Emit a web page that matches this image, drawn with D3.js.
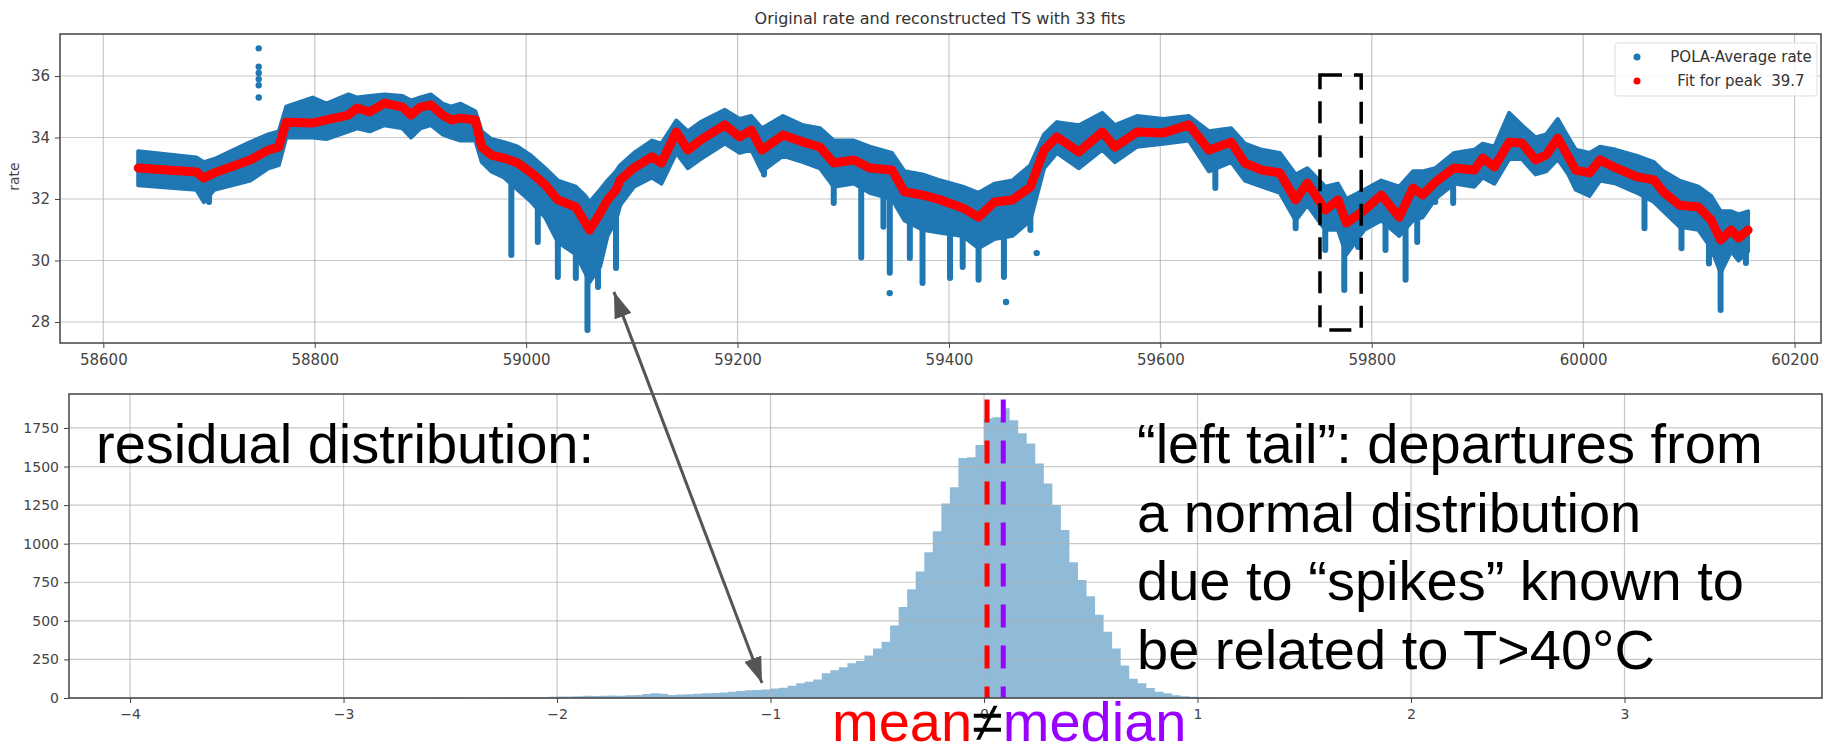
<!DOCTYPE html>
<html>
<head>
<meta charset="utf-8">
<title>Original rate and reconstructed TS with 33 fits</title>
<script src="https://cdn.jsdelivr.net/npm/d3@7"></script>
<style>
body { margin: 0; background: #fff; overflow: hidden; }
svg { display: block; }
text { font-family: "DejaVu Sans", sans-serif; }
.tick text { fill: #444; }
.tick line { stroke: #444; }
.note { font-family: "Liberation Sans", Arial, sans-serif; font-size: 56px; fill: #000; }
</style>
</head>
<body>
<svg width="1828" height="755"></svg>
<script>
// ---- top panel: rate time series (MJD) ----
const fitX = [58633, 58688, 58695, 58705, 58739, 58756, 58766, 58773, 58798, 58811, 58832, 58840, 58852, 58866, 58883, 58891, 58900, 58910, 58921, 58929, 58938, 58952, 58958, 58967, 58979, 58992, 59005, 59018, 59030, 59047, 59056, 59060, 59070, 59077, 59085, 59089, 59102, 59119, 59128, 59142, 59153, 59165, 59188, 59202, 59213, 59223, 59243, 59262, 59278, 59291, 59310, 59325, 59346, 59358, 59375, 59392, 59413, 59428, 59443, 59460, 59477, 59490, 59502, 59523, 59545, 59557, 59578, 59603, 59627, 59646, 59667, 59680, 59696, 59713, 59728, 59739, 59756, 59768, 59776, 59793, 59809, 59826, 59839, 59848, 59860, 59878, 59897, 59905, 59916, 59930, 59942, 59955, 59965, 59976, 59986, 59993, 60006, 60016, 60031, 60051, 60067, 60076, 60091, 60109, 60121, 60130, 60140, 60147, 60156];
const fitY = [33.01, 32.88, 32.68, 32.85, 33.27, 33.59, 33.69, 34.50, 34.47, 34.57, 34.73, 34.96, 34.83, 35.12, 34.99, 34.73, 34.99, 35.06, 34.73, 34.57, 34.63, 34.57, 33.69, 33.43, 33.33, 33.17, 32.85, 32.46, 31.97, 31.74, 31.22, 30.99, 31.54, 31.97, 32.29, 32.62, 33.01, 33.37, 33.17, 34.18, 33.59, 33.92, 34.41, 34.02, 34.24, 33.59, 34.08, 33.85, 33.69, 33.17, 33.27, 33.01, 32.94, 32.23, 32.13, 31.97, 31.71, 31.41, 31.90, 31.97, 32.39, 33.59, 34.02, 33.53, 34.18, 33.69, 34.18, 34.15, 34.41, 33.59, 33.85, 33.17, 32.94, 32.85, 31.97, 32.52, 31.64, 31.97, 31.22, 31.64, 32.13, 31.41, 32.36, 32.13, 32.55, 33.01, 32.94, 33.33, 33.04, 33.85, 33.82, 33.27, 33.43, 33.98, 33.37, 32.94, 32.85, 33.27, 33.01, 32.72, 32.62, 32.23, 31.80, 31.74, 31.32, 30.67, 30.99, 30.73, 30.99];
const bandHi = [33.55, 33.35, 33.2, 33.3, 33.85, 34.1, 34.2, 35.0, 35.3, 35.1, 35.4, 35.3, 35.35, 35.4, 35.35, 35.2, 35.3, 35.4, 35.1, 35.0, 35.1, 34.85, 34.2, 33.95, 33.85, 33.7, 33.4, 33.0, 32.6, 32.4, 32.1, 31.9, 32.3, 32.6, 32.9, 33.1, 33.5, 33.9, 33.8, 34.55, 34.2, 34.5, 34.9, 34.6, 34.7, 34.3, 34.7, 34.4, 34.3, 33.9, 33.9, 33.7, 33.5, 32.9, 32.8, 32.6, 32.4, 32.2, 32.5, 32.6, 33.1, 34.1, 34.5, 34.4, 34.8, 34.4, 34.7, 34.6, 34.7, 34.2, 34.3, 33.8, 33.6, 33.5, 32.8, 33.0, 32.4, 32.5, 32.0, 32.3, 32.6, 32.4, 32.9, 32.9, 33.0, 33.5, 33.6, 33.8, 33.7, 34.8, 34.4, 34.0, 34.1, 34.6, 34.0, 33.6, 33.5, 33.7, 33.6, 33.4, 33.2, 32.9, 32.6, 32.4, 32.1, 31.6, 31.6, 31.5, 31.6];
const bandLo = [32.45, 32.3, 31.9, 32.3, 32.6, 33.0, 33.1, 34.0, 34.0, 33.95, 34.2, 34.3, 34.2, 34.4, 34.3, 34.0, 34.3, 34.4, 34.1, 34.0, 33.9, 33.9, 33.2, 32.9, 32.7, 32.3, 31.9, 31.4, 30.6, 30.2, 29.6, 29.3, 29.8, 30.8, 31.3, 31.8, 32.4, 32.7, 32.5, 33.5, 33.0, 33.3, 33.8, 33.5, 33.6, 32.9, 33.4, 33.2, 33.0, 32.4, 32.5, 32.2, 32.0, 31.3, 31.0, 30.9, 30.8, 30.4, 30.7, 30.8, 31.3, 33.0, 33.5, 33.0, 33.6, 33.2, 33.7, 33.8, 33.9, 32.9, 33.2, 32.6, 32.4, 32.2, 31.3, 31.8, 31.0, 31.0, 30.2, 31.0, 31.3, 30.8, 31.3, 31.4, 32.0, 32.5, 32.4, 32.7, 32.5, 33.3, 33.3, 32.8, 32.9, 33.3, 32.8, 32.3, 32.1, 32.6, 32.5, 32.2, 31.9, 31.6, 31.1, 31.0, 30.4, 29.6, 30.3, 30.0, 30.3];
const spikeX = [58700, 58986, 59011, 59030, 59047, 59058, 59068, 59085, 59225, 59291, 59317, 59338, 59344, 59363, 59375, 59401, 59413, 59428, 59452, 59477, 59652, 59728, 59756, 59774, 59787, 59813, 59832, 59843, 59860, 59877, 60058, 60093, 60119, 60130, 60154];
const spikeTop = [32.6, 32.9, 32.5, 31.5, 31.2, 30.5, 30.5, 31.5, 33.2, 32.8, 32.6, 32.3, 32.2, 31.6, 31.3, 31.2, 31.0, 30.8, 31.2, 31.6, 33.2, 31.6, 31.3, 30.8, 31.2, 31.6, 31.2, 31.5, 32.2, 32.6, 32.3, 31.4, 30.9, 30.2, 30.5];
const spikeBottom = [31.9, 30.18, 30.6, 29.46, 29.43, 27.74, 29.14, 29.76, 32.8, 31.87, 30.1, 31.1, 29.6, 30.08, 29.27, 29.43, 29.79, 29.37, 29.46, 30.99, 32.36, 31.05, 30.34, 29.04, 30.44, 30.34, 29.37, 30.6, 31.9, 31.87, 31.05, 30.4, 29.9, 28.39, 29.92];
const dotX = [58747, 58747, 58747, 58747, 58747, 58747, 59344, 59454, 59483];
const dotY = [36.9, 36.3, 36.1, 35.9, 35.7, 35.3, 28.94, 28.65, 30.24];
const boxX = [59751, 59790];
const boxY = [27.74, 36.03];
const topXTicks = [58600, 58800, 59000, 59200, 59400, 59600, 59800, 60000, 60200];
const topYTicks = [28, 30, 32, 34, 36];

// ---- bottom panel: residual histogram ----
const binStart = -2.60;
const binWidth = 0.04;
const binCounts = [0, 4, 5, 3, 0, 0, 0, 1, 2, 4, 5, 6, 5, 7, 8, 9,
  10, 12, 14, 13, 15, 16, 15, 18, 20, 26, 30, 27, 20, 22, 24, 28, 30, 32, 36, 40, 46, 50, 52, 55, 62,
  66, 80, 95, 105, 120, 160, 180, 200, 225, 240, 275, 320, 365, 470, 590, 705, 820, 945, 1080, 1260, 1365, 1555, 1560, 1640,
  1813, 1820, 1878, 1800, 1716, 1650, 1520, 1390, 1250, 1088, 880, 764, 660, 540, 430, 320, 210, 125, 95, 65, 40, 30, 18, 12, 8, 4, 2];
const meanValue = 0.014;
const medianValue = 0.09;
const botXTicks = [-4, -3, -2, -1, 0, 1, 2, 3];
const botYTicks = [0, 250, 500, 750, 1000, 1250, 1500, 1750];

const svg = d3.select('svg');
const blue = '#1f77b4';

// scales
const x1 = d3.scaleLinear().domain([58559, 60225]).range([60, 1821]);
const y1 = d3.scaleLinear().domain([27.317, 37.366]).range([343, 34]);
const x2 = d3.scaleLinear().domain([-4.286, 3.925]).range([69, 1822]);
const y2 = d3.scaleLinear().domain([0, 1970]).range([698, 394]);

function grid(g, xs, ys, xt, yt) {
  const [xa, xb] = xs.range(), [ya, yb] = ys.range();
  g.selectAll('.gx').data(xt).enter().append('line')
    .attr('x1', d => xs(d)).attr('x2', d => xs(d)).attr('y1', ya).attr('y2', yb)
    .attr('stroke', '#b0b0b0').attr('stroke-opacity', 0.7).attr('stroke-width', 1.2);
  g.selectAll('.gy').data(yt).enter().append('line')
    .attr('y1', d => ys(d)).attr('y2', d => ys(d)).attr('x1', xa).attr('x2', xb)
    .attr('stroke', '#b0b0b0').attr('stroke-opacity', 0.7).attr('stroke-width', 1.2);
}

function frame(xs, ys, xt, yt, fs) {
  const [xa, xb] = xs.range(), [ya, yb] = ys.range();
  const ax = svg.append('g').attr('transform', `translate(0,${ya})`)
    .call(d3.axisBottom(xs).tickValues(xt).tickFormat(d3.format('d')).tickSize(5).tickPadding(6));
  const ay = svg.append('g').attr('transform', `translate(${xa},0)`)
    .call(d3.axisLeft(ys).tickValues(yt).tickFormat(d3.format('d')).tickSize(5).tickPadding(5));
  [ax, ay].forEach(a => {
    a.select('.domain').remove();
    a.selectAll('text').style('font-size', fs + 'px');
  });
  svg.append('rect').attr('x', xa).attr('y', yb).attr('width', xb - xa).attr('height', ya - yb)
    .attr('fill', 'none').attr('stroke', '#444').attr('stroke-width', 1.5);
}

// ---------- top panel ----------
const topG = svg.append('g');
grid(topG, x1, y1, topXTicks, topYTicks);

const band = fitX.map((d, i) => ({ x: d, hi: bandHi[i], lo: bandLo[i] }));
topG.append('path').datum(band)
  .attr('d', d3.area().x(d => x1(d.x)).y0(d => y1(d.lo)).y1(d => y1(d.hi)))
  .attr('fill', blue).attr('stroke', blue).attr('stroke-width', 4).attr('stroke-linejoin', 'round');

topG.selectAll('.spike').data(spikeX).enter().append('line')
  .attr('x1', d => x1(d)).attr('x2', d => x1(d))
  .attr('y1', (d, i) => y1(spikeTop[i])).attr('y2', (d, i) => y1(spikeBottom[i]))
  .attr('stroke', blue).attr('stroke-width', 6).attr('stroke-linecap', 'round');

topG.selectAll('.dot').data(dotX).enter().append('circle')
  .attr('cx', d => x1(d)).attr('cy', (d, i) => y1(dotY[i])).attr('r', 3.2).attr('fill', blue);

topG.append('path').datum(fitX.map((d, i) => [d, fitY[i]]))
  .attr('d', d3.line().x(d => x1(d[0])).y(d => y1(d[1])))
  .attr('fill', 'none').attr('stroke', '#ff0000').attr('stroke-width', 9)
  .attr('stroke-linejoin', 'round').attr('stroke-linecap', 'round');

frame(x1, y1, topXTicks, topYTicks, 15);

svg.append('text').attr('x', 940).attr('y', 24).attr('text-anchor', 'middle')
  .style('font-size', '16px').attr('fill', '#333')
  .text('Original rate and reconstructed TS with 33 fits');
svg.append('text').attr('transform', `translate(19,${(y1.range()[0] + y1.range()[1]) / 2 - 12}) rotate(-90)`)
  .attr('text-anchor', 'middle').style('font-size', '14px').attr('fill', '#444').text('rate');

// legend
const lg = svg.append('g');
lg.append('rect').attr('x', 1615).attr('y', 43).attr('width', 202).attr('height', 53).attr('rx', 3)
  .attr('fill', '#fff').attr('fill-opacity', 0.85).attr('stroke', '#ddd');
[['POLA-Average rate', blue], ['Fit for peak  39.7', '#ff0000']].forEach((e, i) => {
  lg.append('circle').attr('cx', 1637).attr('cy', 57 + i * 24).attr('r', 3.5).attr('fill', e[1]);
  lg.append('text').attr('x', 1741).attr('y', 57 + i * 24).attr('dy', '0.35em')
    .attr('text-anchor', 'middle').style('font-size', '15px').style('white-space', 'pre')
    .attr('fill', '#333').text(e[0]);
});

// dashed highlight box
topG.append('rect')
  .attr('x', x1(boxX[0])).attr('y', y1(boxY[1]))
  .attr('width', x1(boxX[1]) - x1(boxX[0])).attr('height', y1(boxY[0]) - y1(boxY[1]))
  .attr('fill', 'none').attr('stroke', '#000').attr('stroke-width', 3.5)
  .attr('stroke-dasharray', '22,12');

// ---------- bottom panel ----------
const botG = svg.append('g');
const bins = binCounts.map((c, i) => [binStart + i * binWidth, c]);
bins.push([binStart + binCounts.length * binWidth, binCounts[binCounts.length - 1]]);
botG.append('path').datum(bins)
  .attr('d', d3.area().curve(d3.curveStepAfter).x(d => x2(d[0])).y0(y2(0)).y1(d => y2(d[1])))
  .attr('fill', blue).attr('fill-opacity', 0.5);
grid(botG, x2, y2, botXTicks, botYTicks);

[[meanValue, '#ff0000'], [medianValue, '#9900ff']].forEach(m => {
  botG.append('line').attr('x1', x2(m[0])).attr('x2', x2(m[0]))
    .attr('y1', y2(1935)).attr('y2', y2(0))
    .attr('stroke', m[1]).attr('stroke-width', 5).attr('stroke-dasharray', '23,18');
});

frame(x2, y2, botXTicks, botYTicks, 14);

// ---------- annotations ----------
svg.append('text').attr('class', 'note').attr('x', 96).attr('y', 463).text('residual distribution:');
const lines = ['\u201cleft tail\u201d: departures from', 'a normal distribution',
  'due to \u201cspikes\u201d known to', 'be related to T>40\u00b0C'];
svg.selectAll('.rt').data(lines).enter().append('text').attr('class', 'note')
  .attr('x', 1137).attr('y', (d, i) => 463 + i * 68.5).text(d => d);

const mm = svg.append('text').attr('class', 'note').attr('x', 832).attr('y', 741);
mm.append('tspan').attr('fill', '#ff0000').text('mean');
mm.append('tspan').attr('fill', '#000').text('\u2260');
mm.append('tspan').attr('fill', '#9900ff').text('median');

// double-headed arrow from the dip in the time series to the left tail
const defs = svg.append('defs');
defs.append('marker').attr('id', 'ah').attr('viewBox', '0 0 26 18')
  .attr('refX', 26).attr('refY', 9).attr('markerWidth', 26).attr('markerHeight', 18)
  .attr('markerUnits', 'userSpaceOnUse').attr('orient', 'auto-start-reverse')
  .append('path').attr('d', 'M0,0L26,9L0,18Z').attr('fill', '#555');
svg.append('line')
  .attr('x1', x1(59083)).attr('y1', y1(28.98))
  .attr('x2', x2(-1.04)).attr('y2', y2(97))
  .attr('stroke', '#555').attr('stroke-width', 3)
  .attr('marker-start', 'url(#ah)').attr('marker-end', 'url(#ah)');
</script>
</body>
</html>
